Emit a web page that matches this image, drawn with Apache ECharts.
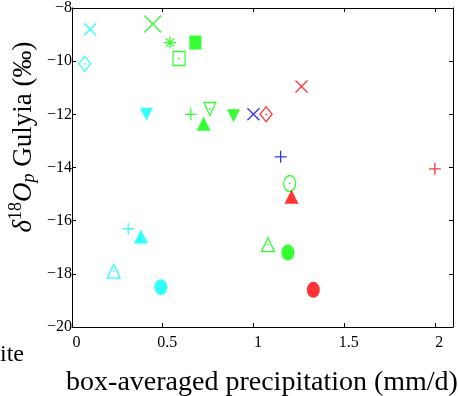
<!DOCTYPE html>
<html>
<head>
<meta charset="utf-8">
<script src="https://cdn.jsdelivr.net/npm/echarts@6/dist/echarts.min.js"></script>
<style>
  html, body { margin: 0; padding: 0; background: #fff; }
  #main { width: 458px; height: 396px; }
</style>
</head>
<body>
<div id="main"></div>
<script>
const xTicks = [0, 0.5, 1, 1.5, 2];
const yTicks = [-20, -18, -16, -14, -12, -10, -8];

// [precip, d18O, marker]
const cyanPts = [
  [0.10, -8.8, 'cross'],
  [0.07, -10.1, 'diamondOpen'],
  [0.41, -12.0, 'triDown'],
  [0.31, -16.3, 'plus'],
  [0.38, -16.6, 'triUp'],
  [0.23, -17.9, 'triUpOpen'],
  [0.49, -18.5, 'circle']
];
const greenPts = [
  [0.445, -8.6, 'crossBig'],
  [0.54, -9.3, 'star'],
  [0.68, -9.3, 'square'],
  [0.59, -9.9, 'squareOpen'],
  [0.655, -12.0, 'plus'],
  [0.76, -11.8, 'triDownOpen'],
  [0.725, -12.35, 'triUp'],
  [0.89, -12.05, 'triDown'],
  [1.2, -14.6, 'circleOpen'],
  [1.08, -16.9, 'triUpOpen'],
  [1.19, -17.2, 'circle']
];
const bluePts = [
  [1.0, -12.0, 'cross'],
  [1.15, -13.6, 'plus']
];
const redPts = [
  [1.265, -10.95, 'cross'],
  [1.07, -12.0, 'diamondOpen'],
  [2.0, -14.05, 'plus'],
  [1.21, -15.1, 'triUp'],
  [1.33, -18.6, 'circle']
];

const SERIF = 'Liberation Serif';

const P_CROSS = 'path://M0,0L10,10M10,0L0,10';
const P_PLUS = 'path://M5,0L5,10M0,5L10,5';
const P_STAR = 'path://M5,0L5,10M0,5L10,5M1.6,1.6L8.4,8.4M8.4,1.6L1.6,8.4';
const P_ELLIPSE = 'path://M0,5A5,5,0,1,1,10,5A5,5,0,1,1,0,5Z';

const markerStyle = {
  cross:       { symbol: P_CROSS, size: 12 },
  crossBig:    { symbol: P_CROSS, size: 17 },
  plus:        { symbol: P_PLUS, size: 12 },
  star:        { symbol: P_STAR, size: 12 },
  square:      { symbol: 'rect', size: [12, 14], fill: true },
  squareOpen:  { symbol: 'rect', size: [12, 14], dot: true },
  circle:      { symbol: P_ELLIPSE, size: [13, 16], fill: true },
  circleOpen:  { symbol: P_ELLIPSE, size: [12, 16], dot: true },
  triUp:       { symbol: 'triangle', size: [14, 14], fill: true },
  triUpOpen:   { symbol: 'triangle', size: [13, 14], dot: true },
  triDown:     { symbol: 'triangle', size: [13, 13], rotate: 180, fill: true },
  triDownOpen: { symbol: 'triangle', size: [12, 13], rotate: 180, dot: true },
  diamondOpen: { symbol: 'diamond', size: [12, 15], dot: true }
};

function makeSeries(points, color) {
  const items = points.map(p => {
    const m = markerStyle[p[2]];
    return {
      value: [p[0], p[1]],
      symbol: m.symbol,
      symbolSize: m.size,
      symbolRotate: m.rotate || 0,
      itemStyle: m.fill
        ? { color: color, borderWidth: 0 }
        : { color: 'rgba(0,0,0,0)', borderColor: color, borderWidth: 1.3 }
    };
  });
  const dots = points.filter(p => markerStyle[p[2]].dot).map(p => [p[0], p[1]]);
  return [
    { type: 'scatter', data: items, silent: true },
    { type: 'scatter', data: dots, symbol: 'circle', symbolSize: 1.8,
      itemStyle: { color: color }, silent: true }
  ];
}

const minus = v => String(v).replace('-', '\u2212');

const myEchart = echarts.init(document.getElementById('main'));

const option = {
  animation: false,
  backgroundColor: '#fff',
  textStyle: { fontFamily: SERIF },
  grid: { left: 72, right: 5, top: 8, bottom: 69 },
  xAxis: [
    {
      type: 'value', min: 0, max: 2.1, position: 'bottom',
      axisLine: { show: true, onZero: false, lineStyle: { color: '#000', width: 1 } },
      axisTick: { show: true, inside: true, length: 4, customValues: xTicks, lineStyle: { color: '#000' } },
      axisLabel: {
        customValues: xTicks, margin: 8, color: '#000',
        fontFamily: SERIF, fontSize: 16, padding: [0, 0, 0, 9]
      },
      splitLine: { show: false }
    },
    {
      type: 'value', min: 0, max: 2.1, position: 'top',
      axisLine: { show: true, onZero: false, lineStyle: { color: '#000', width: 1 } },
      axisTick: { show: true, inside: true, length: 4, customValues: xTicks, lineStyle: { color: '#000' } },
      axisLabel: { show: false },
      splitLine: { show: false }
    }
  ],
  yAxis: [
    {
      type: 'value', min: -20, max: -8, interval: 2, position: 'left',
      axisLine: { show: true, onZero: false, lineStyle: { color: '#000', width: 1 } },
      axisTick: { show: true, inside: true, length: 4, lineStyle: { color: '#000' } },
      axisLabel: {
        margin: 0, color: '#000', fontFamily: SERIF, fontSize: 16,
        padding: [9, 0, 0, 0], formatter: minus
      },
      splitLine: { show: false }
    },
    {
      type: 'value', min: -20, max: -8, interval: 2, position: 'right',
      axisLine: { show: true, onZero: false, lineStyle: { color: '#000', width: 1 } },
      axisTick: { show: true, inside: true, length: 4, lineStyle: { color: '#000' } },
      axisLabel: { show: false },
      splitLine: { show: false }
    }
  ],
  graphic: [
    {
      type: 'text', x: 24, y: 137, rotation: Math.PI / 2, silent: true,
      style: {
        text: '{i|δ}{sup|18}{i|O}{sub|p}{n| Gulyia (‰)}',
        align: 'center', verticalAlign: 'middle', fill: '#000',
        rich: {
          i: { fontFamily: SERIF, fontSize: 27, fontStyle: 'italic', fill: '#000' },
          n: { fontFamily: SERIF, fontSize: 27, fill: '#000' },
          sup: { fontFamily: SERIF, fontSize: 18, fill: '#000', padding: [0, 0, 16, 0] },
          sub: { fontFamily: SERIF, fontSize: 18, fontStyle: 'italic', fill: '#000', padding: [10, 0, 0, 0] }
        }
      }
    },
    {
      type: 'text', x: 262, y: 383, silent: true,
      style: {
        text: 'box-averaged precipitation (mm/d)',
        align: 'center', verticalAlign: 'middle', fill: '#000',
        font: '28px "Liberation Serif"'
      }
    },
    {
      type: 'text', x: 24, y: 355, silent: true,
      style: {
        text: 'ite', align: 'right', verticalAlign: 'middle', fill: '#000',
        font: '24px "Liberation Serif"'
      }
    }
  ],
  series: [].concat(
    makeSeries(cyanPts, '#00ffff'),
    makeSeries(greenPts, '#00ff00'),
    makeSeries(bluePts, '#0000ff'),
    makeSeries(redPts, '#ff0000')
  )
};

myEchart.setOption(option, true);
</script>
</body>
</html>
